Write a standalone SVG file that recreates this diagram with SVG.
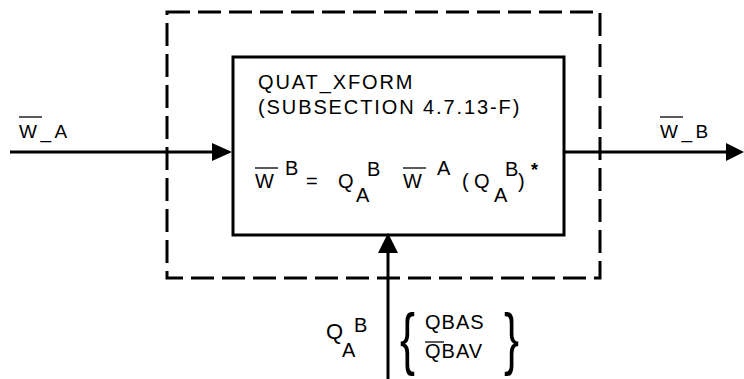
<svg xmlns="http://www.w3.org/2000/svg" width="744" height="379" viewBox="0 0 744 379">
<style>
text{font-family:"Liberation Sans",Arial,sans-serif;font-size:20px;fill:#000}
.hd{letter-spacing:1.9px}
.br{font-size:30px}
.ln{stroke:#000;stroke-width:3;fill:none}
.ov{stroke:#000;stroke-width:1.3}
.ah{fill:#000}
</style>
<rect width="744" height="379" fill="#fff"/>
<g id="boundary">
<rect x="167" y="12" width="433" height="266" fill="none" stroke="#000" stroke-width="3" stroke-dasharray="23 8"/>
</g>
<g id="quat_xform">
<rect class="ln" x="233" y="57" width="331" height="178"/>
<text class="hd" x="258" y="89">QUAT_XFORM</text>
<text class="hd" x="258" y="114">(SUBSECTION 4.7.13-F)</text>
<text x="255" y="188">W</text>
<line class="ov" x1="255" y1="168" x2="278" y2="168"/>
<text x="285" y="175">B</text>
<text x="306" y="188">=</text>
<text x="338" y="188">Q</text>
<text x="356" y="202">A</text>
<text x="367" y="176">B</text>
<text x="403" y="188">W</text>
<line class="ov" x1="403" y1="168" x2="426" y2="168"/>
<text x="437" y="175">A</text>
<text x="462" y="188">(</text>
<text x="474" y="188">Q</text>
<text x="494" y="202">A</text>
<text x="505" y="176">B</text>
<text x="518" y="188">)</text>
<text x="531" y="176" style="font-size:18px;font-weight:bold">*</text>
</g>
<g id="connectors">
<line class="ln" x1="10" y1="152" x2="215" y2="152"/>
<polygon class="ah" points="232,152 212,143 212,161"/>
<line class="ln" x1="564" y1="152" x2="728" y2="152"/>
<polygon class="ah" points="744,152 726,143 726,161"/>
<line class="ln" x1="388" y1="379" x2="388" y2="250"/>
<polygon class="ah" points="388,233 378,253 398,253"/>
</g>
<g id="label_wa">
<text x="19" y="138" style="font-size:19px;letter-spacing:3.5px">W_A</text>
<line class="ov" x1="19" y1="117" x2="42" y2="117"/>
</g>
<g id="label_wb">
<text x="660" y="138" style="font-size:19px;letter-spacing:3.5px">W_B</text>
<line class="ov" x1="660" y1="117" x2="683" y2="117"/>
</g>
<g id="label_q">
<text x="326" y="339" style="font-size:22px">Q</text>
<text x="342" y="357">A</text>
<text x="354" y="332">B</text>
<text class="br" transform="translate(400,362) scale(1.5,2.3)">{</text>
<text x="425" y="329" style="letter-spacing:1px">QBAS</text>
<text x="425" y="358" style="letter-spacing:1px">QBAV</text>
<line class="ov" x1="425" y1="342" x2="444" y2="342"/>
<text class="br" transform="translate(504,362) scale(1.5,2.3)">}</text>
</g>
</svg>
